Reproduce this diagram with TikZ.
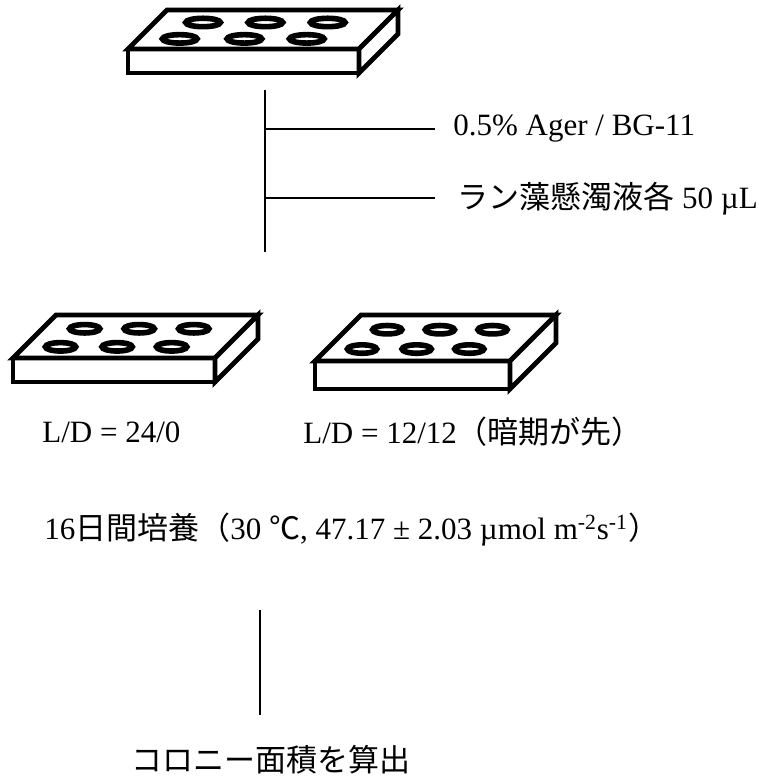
\documentclass[tikz,border=0pt]{standalone}
\usepackage{fontspec}
\setmainfont{Liberation Serif}
\newfontfamily\jp{Noto Sans CJK JP}
\usepackage{tikz}

\tikzset{
  plate/.style={draw=black,line width=2.4pt,fill=white},
  well/.style={draw=black,line width=2.8pt,fill=white},
  branch/.style={line width=1pt},
  txt/.style={anchor=west,inner sep=0pt,font=\fontsize{15.5}{18}\selectfont},
}

% a 6-well plate: #1,#2 front top left corner, #3 width, #4 front height, #5 depth
\newcommand{\wellplate}[5]{%
  \draw[plate] (#1,#2) -- ++(#3,0) -- ++(0,#4) -- ++(-#3,0) -- cycle;
  \draw[plate] (#1,#2) -- ++(#5,-#5) -- ++(#3,0) -- ++(-#5,#5) -- cycle;
  \draw[plate] ({#1+#3},#2) -- ++(#5,-#5) -- ++(0,#4) -- ++(-#5,#5) -- cycle;
  \foreach \f/\t in {0.18/0.26,0.46/0.26,0.73/0.26,0.21/0.68,0.48/0.68,0.75/0.68}
    \draw[well] ({#1+\f*#3+\t*#5},{#2-\t*#5}) ellipse [x radius={0.075*#3},y radius=4.2];
}

\begin{document}
\begin{tikzpicture}[x=0.5pt,y=-0.5pt]
\useasboundingbox (0,0) rectangle (759,783);

% the plates
\wellplate{128}{49}{231}{24}{39}
\wellplate{13}{358}{202}{24}{43}
\wellplate{315}{361}{195}{28}{46}

% the texts
\node[txt] (agar) at (453,129) {0.5\% Ager / BG-11};
\node[txt] (cells) at (457,199) {{\jp ラン藻懸濁液各} 50 µL};
\node[txt] (ld1) at (42,432) {L/D = 24/0};
\node[txt] (ld2) at (303,432) {L/D = 12/12{\jp （暗期が先）}};
\node[txt] (culture) at (44,530)
  {16{\jp 日間培養（}30 {\jp ℃}, 47.17 ± 2.03 µmol m\textsuperscript{-2}s\textsuperscript{-1}{\jp ）}};
\node[txt] (area) at (131,760) {\jp コロニー面積を算出};

% the lines
\coordinate (trunk top) at (265,90);
\coordinate (trunk bot) at (265,252);
\coordinate (b1) at (265,129);
\coordinate (b2) at (265,198);
\draw[branch] (trunk top) -- (trunk bot);
\draw[branch] (b1) -- ([xshift=-9pt]agar.west);
\draw[branch] (b2) -- ([xshift=-11pt,yshift=0.5pt]cells.west);
\coordinate (step top) at (260,610);
\coordinate (step bot) at (260,715);
\draw[branch] (step top) -- (step bot);
\end{tikzpicture}
\end{document}
